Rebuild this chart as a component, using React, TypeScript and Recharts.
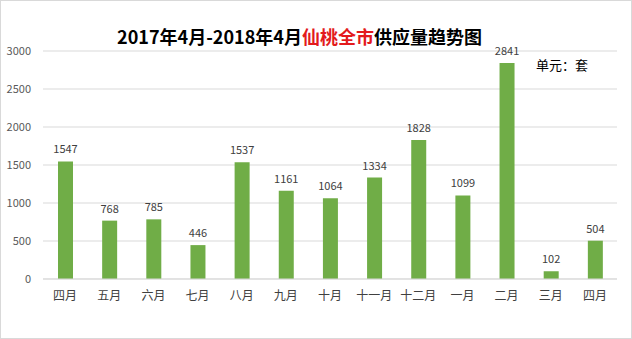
import { BarChart, Bar, XAxis, YAxis, CartesianGrid, LabelList } from "recharts";

const months = ["四月", "五月", "六月", "七月", "八月", "九月", "十月", "十一月", "十二月", "一月", "二月", "三月", "四月"];
const supply = [1547, 768, 785, 446, 1537, 1161, 1064, 1334, 1828, 1099, 2841, 102, 504];
const yTicks = [0, 500, 1000, 1500, 2000, 2500, 3000];

const data = months.map((m, i) => ({ name: m, value: supply[i] }));

const font = "'Microsoft YaHei', 'Noto Sans CJK SC', sans-serif";

export default function App() {
  return (
    <div
      style={{
        position: "fixed",
        left: 0,
        top: 0,
        width: 632,
        height: 339,
        background: "#fff",
        boxSizing: "border-box",
        border: "1px solid #d9d9d9",
        fontFamily: font,
      }}
    >
      <div
        style={{
          position: "absolute",
          top: 22,
          left: 0,
          width: 597,
          textAlign: "center",
          fontSize: 18,
          fontWeight: "bold",
          color: "#000",
        }}
      >
        2017年4月-2018年4月<span style={{ color: "#e31a1c" }}>仙桃全市</span>供应量趋势图
      </div>
      <div style={{ position: "absolute", top: 54, left: 535, fontSize: 13, color: "#000" }}>单元：套</div>
      <div style={{ position: "absolute", left: -1, top: -1 }}>
        <BarChart width={632} height={339} data={data} margin={{ top: 51, right: 15, left: 0, bottom: 30 }}>
          <CartesianGrid vertical={false} stroke="#d9d9d9" />
          <XAxis
            dataKey="name"
            tickLine={false}
            axisLine={{ stroke: "#d9d9d9" }}
            tick={{ fill: "#404040", fontSize: 12, fontFamily: font }}
            tickMargin={6}
            interval={0}
          />
          <YAxis
            width={43}
            domain={[0, 3000]}
            ticks={yTicks}
            axisLine={false}
            tickLine={false}
            tick={{ fill: "#595959", fontSize: 11, fontFamily: font }}
            tickMargin={6}
          />
          <Bar dataKey="value" fill="#70ad47" barSize={15} isAnimationActive={false}>
            <LabelList dataKey="value" position="top" offset={8} fill="#404040" fontSize={11} fontFamily={font} />
          </Bar>
        </BarChart>
      </div>
    </div>
  );
}
